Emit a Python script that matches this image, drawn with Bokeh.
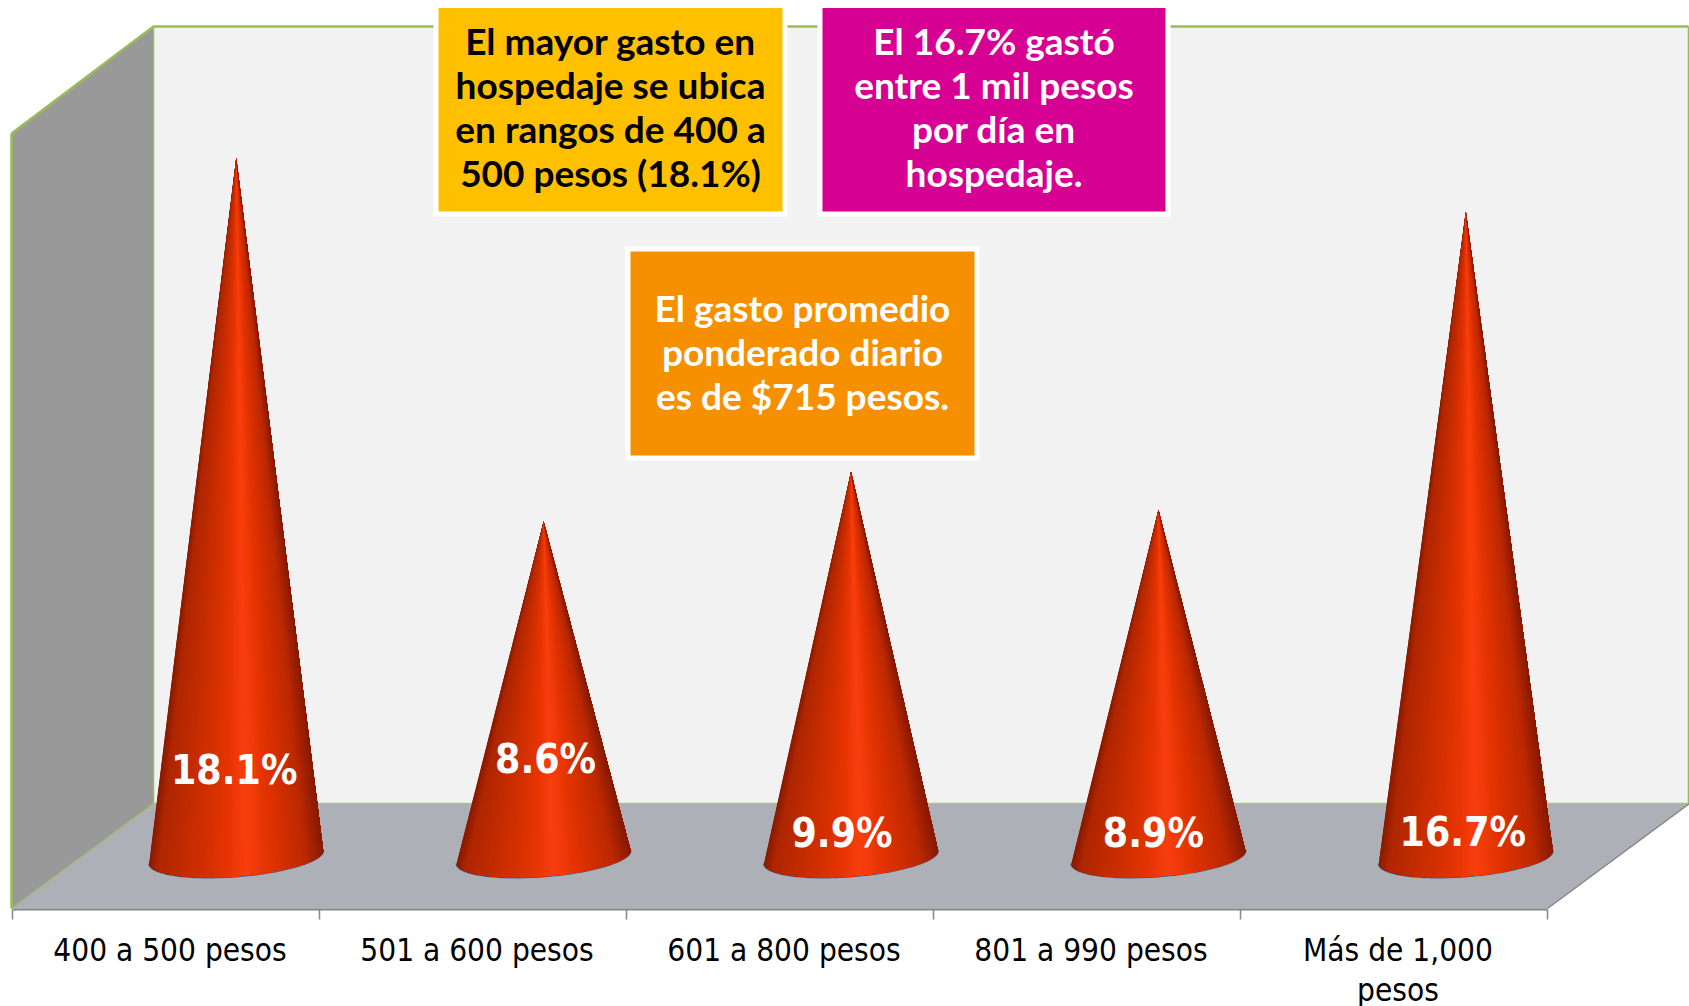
from bokeh.embed import file_html
from bokeh.resources import INLINE
from bokeh.plotting import figure
from bokeh.models import Range1d, LinearAxis, FixedTicker
from bokeh.core.properties import value
import math

categories = ["400 a 500 pesos", "501 a 600 pesos", "601 a 800 pesos", "801 a 990 pesos", "Más de 1,000\npesos"]
percent = [18.1, 8.6, 9.9, 8.9, 16.7]
percent_labels = ["18.1%", "8.6%", "9.9%", "8.9%", "16.7%"]
label_nudge_x = [-2, 2, -9, -5, -3]
label_y_px = [769, 758, 832, 832, 831]
box_yellow = ["El mayor gasto en", "hospedaje se ubica", "en rangos de 400 a", "500 pesos (18.1%)"]
box_pink = ["El 16.7% gastó", "entre 1 mil pesos", "por día en", "hospedaje."]
box_orange = ["El gasto promedio", "ponderado diario", "es de $715 pesos."]

W, H, FLOOR_Y = 1689, 1006, 909
X0, DX = 169.5, 307.0       # pixel of category 0, pixels per category
Y0, DY = 850.0, 38.25       # pixel of 0 %, pixels per percent
CONE_X0, CONE_DX = 235.7, 307.4   # the cones stand behind the axis, in perspective
TICK_SHIFT = -4.0 / DX

p = figure(frame_width=W, frame_height=FLOOR_Y, min_border=0, min_border_bottom=H - FLOOR_Y,
           min_border_left=0, min_border_right=0, min_border_top=0,
           x_range=Range1d(-X0 / DX, (W - X0) / DX),
           y_range=Range1d((Y0 - FLOOR_Y) / DY, Y0 / DY),
           x_axis_type=None, y_axis_type=None, toolbar_location=None,
           output_backend="svg", outline_line_color=None, margin=(0, 0, 0, 0))
p.grid.visible = False
p.background_fill_color = "#ffffff"
p.border_fill_color = "#ffffff"
p.extra_x_ranges["px"] = Range1d(0, W)
p.extra_y_ranges["px"] = Range1d(FLOOR_Y, 0)
PX = dict(x_range_name="px", y_range_name="px")

# 3-D walls and floor
GREEN, GREY = "#9BBB59", "#868686"
p.patch([153, 1688, 1688, 153], [26, 26, 803, 803], fill_color="#F2F2F2", line_color=None, **PX)
p.patch([11, 153, 153, 11], [133, 26, 803, 908], fill_color="#999999", line_color=None, **PX)
p.patch([11, 153, 1689, 1547], [908, 803, 803, 908], fill_color="#ADB0B6", line_color=None, **PX)
p.line([11, 11], [908, 133], line_color=GREEN, line_width=2.5, **PX)
p.line([11, 153, 1688], [133, 26, 26], line_color=GREEN, line_width=2.5, **PX)
p.line([153, 153], [26, 803], line_color=GREEN, line_width=1.5, **PX)
p.line([1688, 1688], [26, 803], line_color=GREEN, line_width=1.5, **PX)
p.line([11, 153, 1688], [908, 803, 803], line_color=GREEN, line_width=1.5, alpha=0.7, **PX)
p.line([1547, 1689], [908, 803], line_color=GREY, line_width=1.5, **PX)

# cones: painted left to right, each polygon covering the rest of the cone, so no seams show
STOPS = [(-1.0, (0x88, 0x1a, 0x00)), (-0.9, (0xae, 0x26, 0x00)), (-0.4, (0xd0, 0x2f, 0x00)),
         (-0.1, (0xe6, 0x34, 0x02)), (0.12, (0xfa, 0x3e, 0x0e)), (0.4, (0xe0, 0x32, 0x00)),
         (0.8, (0xbc, 0x28, 0x00)), (1.0, (0x88, 0x1a, 0x00))]
def shade(u):
    for (a, ca), (b, cb) in zip(STOPS, STOPS[1:]):
        if u <= b:
            f = (u - a) / (b - a)
            return "#%02x%02x%02x" % tuple(round(x + (y - x) * f) for x, y in zip(ca, cb))
    return "#881a00"

A_X, A_Y, B_Y, C_OFF = 87.0 / DX, -6.5 / DY, 19.4 / DY, -6.5 / DY
N = 70
xs, ys, cols = [], [], []
rim_x, rim_y = [], []
for i, v in enumerate(percent):
    cx = (CONE_X0 + CONE_DX * i - X0) / DX
    rx, ry = [], []
    for k in range(N + 1):
        t = math.pi * (N - k) / N     # left end first
        rx.append(cx + A_X * math.cos(t))
        ry.append(C_OFF - B_Y * math.sin(t) - A_Y * math.cos(t))
    rim_x.append(rx); rim_y.append(ry)
    for k in range(N):
        xs.append([cx] + rx[k:])
        ys.append([v] + ry[k:])
        cols.append(shade(math.cos(math.pi * (N - k - 0.5) / N)))
p.multi_line(rim_x, rim_y, line_color="#4f5a7a", line_width=2)
p.patches(xs, ys, fill_color=cols, line_color=None)

# data labels
for i, s in enumerate(percent_labels):
    p.text([CONE_X0 + CONE_DX * i + label_nudge_x[i]], [label_y_px[i]], text=[s], text_color="#ffffff",
           text_font=value("DejaVu Sans Condensed"), text_font_style="bold", text_font_size="40.5px",
           text_align="center", text_baseline="middle", **PX)

# annotation boxes
def box(x0, x1, y0, y1, color, lines, text_color, first_y):
    p.patch([x0 - 5, x1 + 5, x1 + 5, x0 - 5], [y0 - 5, y0 - 5, y1 + 5, y1 + 5], fill_color="#ffffff", line_color=None, **PX)
    p.patch([x0, x1, x1, x0], [y0, y0, y1, y1], fill_color=color, line_color=None, **PX)
    for j, s in enumerate(lines):
        p.text([(x0 + x1) / 2], [first_y + 44 * j], text=[s], text_color=text_color,
               text_font=value("Lato"), text_font_style="bold", text_font_size="37px",
               text_align="center", text_baseline="middle", **PX)

box(438, 782, 7.5, 211, "#FFC000", box_yellow, "#000000", 40)
box(822, 1165, 7.5, 211, "#D60093", box_pink, "#ffffff", 40)
box(630, 974, 251, 455, "#F79000", box_orange, "#ffffff", 307)

# category axis
axis = LinearAxis(ticker=FixedTicker(ticks=list(range(len(categories))),
                                     minor_ticks=[i - 0.5 + TICK_SHIFT for i in range(len(categories) + 1)]),
                  major_label_overrides={i: c for i, c in enumerate(categories)},
                  bounds=(-0.5 + TICK_SHIFT, 4.5 + TICK_SHIFT), axis_line_color=GREY, axis_line_width=2,
                  major_tick_line_color=None, major_tick_out=0, major_tick_in=0,
                  minor_tick_line_color=GREY, minor_tick_out=10, minor_tick_in=0, minor_tick_line_width=1.5,
                  major_label_text_font="DejaVu Sans Condensed", major_label_text_font_size="31.3px",
                  major_label_text_line_height=1.12,
                  major_label_text_color="#000000", major_label_standoff=12)
p.add_layout(axis, "below")

open("out.html", "w").write(file_html(p, INLINE))
